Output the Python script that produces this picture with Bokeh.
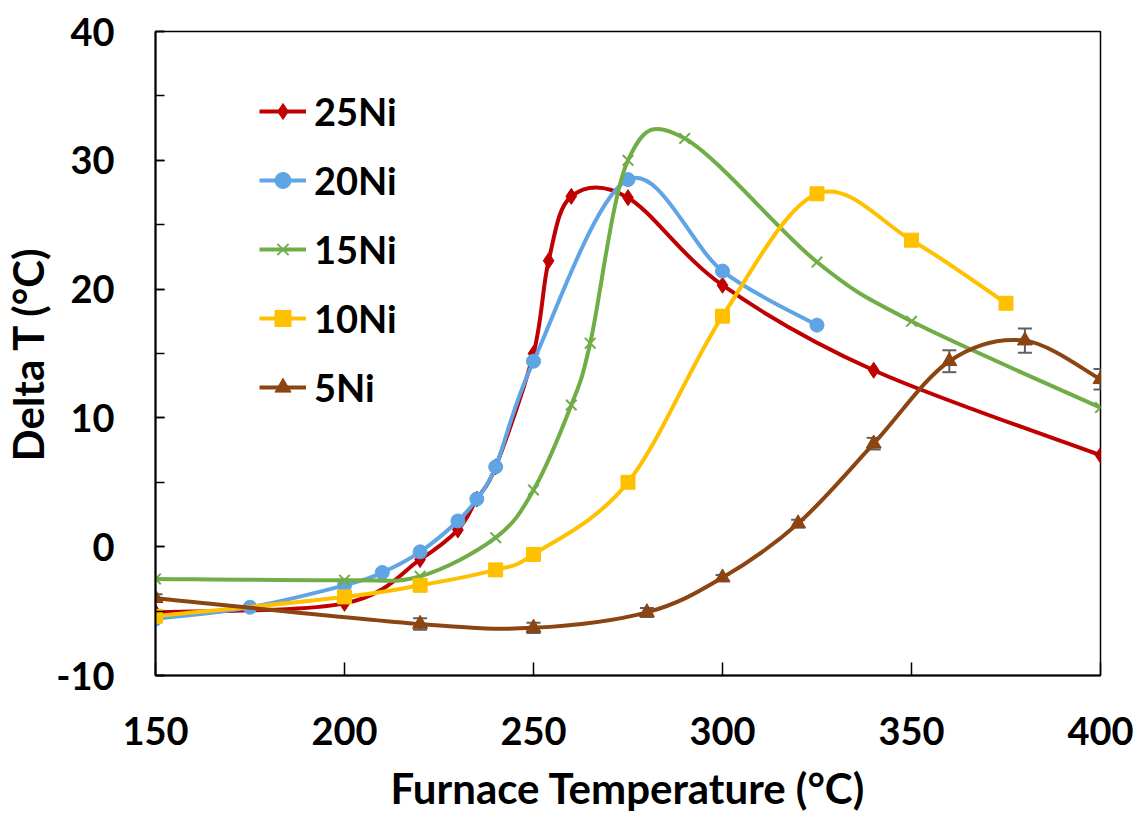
import numpy as np
from bokeh.plotting import figure
from bokeh.models import (Legend, LegendItem, Range1d, FixedTicker, SingleIntervalTicker,
                          ColumnDataSource, Whisker, TeeHead, PrintfTickFormatter)
from bokeh.embed import file_html
from bokeh.resources import INLINE

# ---- data ----
x25 = [150, 200, 220, 230, 235, 240, 250, 254, 260, 275, 300, 340, 400]
y25 = [-5.1, -4.4, -1.0, 1.3, 3.7, 6.2, 15.0, 22.2, 27.2, 27.1, 20.3, 13.7, 7.1]

x20 = [150, 175, 200, 210, 220, 230, 235, 240, 250, 275, 300, 325]
y20 = [-5.6, -4.7, -3.0, -2.0, -0.4, 2.0, 3.7, 6.2, 14.4, 28.5, 21.4, 17.2]

x15 = [150, 200, 220, 240, 250, 260, 265, 275, 290, 325, 350, 400]
y15 = [-2.5, -2.6, -2.3, 0.7, 4.4, 11.0, 15.8, 30.0, 31.7, 22.1, 17.5, 10.8]

x10 = [150, 200, 220, 240, 250, 275, 300, 325, 350, 375]
y10 = [-5.4, -3.9, -3.0, -1.8, -0.6, 5.0, 17.9, 27.4, 23.8, 18.9]

x5 = [150, 220, 250, 280, 300, 320, 340, 360, 380, 400]
y5 = [-4.0, -6.0, -6.3, -5.1, -2.4, 1.8, 8.0, 14.4, 16.0, 13.0]
e5 = [0.3, 0.45, 0.4, 0.35, 0.2, 0.3, 0.45, 0.85, 0.95, 0.8]

series_names = ["25Ni", "20Ni", "15Ni", "10Ni", "5Ni"]
x_ticks = [150, 200, 250, 300, 350, 400]
x_title = "Furnace Temperature (°C)"
y_title = "Delta T (°C)"

FONT = "Lato"

def smooth_segments(xs, ys):
    P = np.column_stack([xs, ys]).astype(float)
    n = len(P)
    out = dict(x0=[], y0=[], x1=[], y1=[], cx0=[], cy0=[], cx1=[], cy1=[])
    for i in range(n - 1):
        p0 = P[i - 1] if i > 0 else P[i]
        p1 = P[i]
        p2 = P[i + 1]
        p3 = P[i + 2] if i + 2 < n else P[i + 1]
        c1 = p1 + (p2 - p0) / 6.0
        c2 = p2 - (p3 - p1) / 6.0
        out["x0"].append(p1[0]); out["y0"].append(p1[1])
        out["x1"].append(p2[0]); out["y1"].append(p2[1])
        out["cx0"].append(c1[0]); out["cy0"].append(c1[1])
        out["cx1"].append(c2[0]); out["cy1"].append(c2[1])
    return out

p = figure(width=1138, height=816, output_backend="svg", toolbar_location=None,
           x_range=Range1d(150, 400), y_range=Range1d(-10, 40),
           min_border_left=154, min_border_right=38, min_border_top=31, min_border_bottom=141)

p.background_fill_color = "white"
p.border_fill_color = "white"
p.outline_line_color = "black"
p.outline_line_width = 1.5
p.xgrid.visible = False
p.ygrid.visible = False

styles = [
    dict(color="#C00000", marker="diamond", size=16),
    dict(color="#5FA4E4", marker="circle", size=14),
    dict(color="#70AD47", marker="x", size=15),
    dict(color="#FFC000", marker="square", size=14),
    dict(color="#8B4513", marker="triangle", size=15),
]
data = [(x25, y25), (x20, y20), (x15, y15), (x10, y10), (x5, y5)]

items = []
for name, (xs, ys), st in zip(series_names, data, styles):
    seg = smooth_segments(xs, ys)
    p.bezier(source=ColumnDataSource(seg), x0="x0", y0="y0", x1="x1", y1="y1",
             cx0="cx0", cy0="cy0", cx1="cx1", cy1="cy1",
             line_color=st["color"], line_width=4)
    leg_line = p.line(x=[np.nan], y=[np.nan], line_color=st["color"], line_width=4)
    if name == "5Ni":
        src = ColumnDataSource(dict(x=xs, upper=[a + b for a, b in zip(ys, e5)],
                                    lower=[a - b for a, b in zip(ys, e5)]))
        w = Whisker(source=src, base="x", upper="upper", lower="lower",
                    line_color="#606060", line_width=2,
                    upper_head=TeeHead(size=14, line_color="#606060", line_width=2),
                    lower_head=TeeHead(size=14, line_color="#606060", line_width=2))
        p.add_layout(w)
    if st["marker"] == "x":
        mk = p.scatter(x=xs, y=ys, marker="x", size=st["size"], line_color=st["color"], line_width=2)
    else:
        mk = p.scatter(x=xs, y=ys, marker=st["marker"], size=st["size"],
                       fill_color=st["color"], line_color=st["color"], line_width=1)
    items.append(LegendItem(label=name, renderers=[leg_line, mk]))

legend = Legend(items=items, location=(104, 265), orientation="vertical",
                glyph_width=47, glyph_height=40, label_height=40, spacing=23,
                label_standoff=8, padding=0, margin=0,
                label_text_font=FONT, label_text_font_style="bold",
                label_text_font_size="38px", label_text_color="black",
                border_line_color=None, background_fill_alpha=0)
p.add_layout(legend)

# axes
p.xaxis.ticker = FixedTicker(ticks=x_ticks)
p.yaxis.ticker = SingleIntervalTicker(interval=10, num_minor_ticks=2)
p.xaxis.formatter = PrintfTickFormatter(format="%d")
p.yaxis.formatter = PrintfTickFormatter(format="%d")
for ax in (p.xaxis, p.yaxis):
    ax.axis_line_color = "black"
    ax.axis_line_width = 2
    ax.major_tick_line_color = "black"
    ax.major_tick_line_width = 1.5
    ax.major_tick_out = 0
    ax.minor_tick_out = 0
    ax.major_label_text_font = FONT
    ax.major_label_text_font_style = "bold"
    ax.major_label_text_font_size = "38px"
    ax.major_label_text_color = "black"
    ax.axis_label_text_font = FONT
    ax.axis_label_text_font_style = "bold"
    ax.axis_label_text_font_size = "42px"
    ax.axis_label_text_color = "black"

p.xaxis.major_tick_in = 13
p.xaxis.minor_tick_line_color = None
p.xaxis.major_label_standoff = 41
p.xaxis.axis_label = x_title
p.xaxis.axis_label_standoff = 15

p.yaxis.major_tick_in = 9
p.yaxis.minor_tick_in = 9
p.yaxis.minor_tick_line_color = "black"
p.yaxis.minor_tick_line_width = 1.5
p.yaxis.major_label_standoff = 41
p.yaxis.axis_label = y_title
p.yaxis.axis_label_standoff = 0

open("out.html", "w").write(file_html(p, INLINE))
